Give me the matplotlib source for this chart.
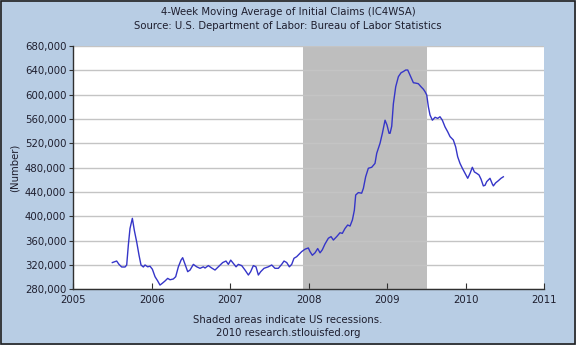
import matplotlib
matplotlib.use("Agg")
import matplotlib.pyplot as plt
import matplotlib.patches as mpatches
from matplotlib.ticker import FuncFormatter

# weekly 4-week moving average (decimal year, thousands)
dates = [
    2005.497, 2005.552, 2005.582, 2005.616, 2005.659, 2005.680, 2005.701, 2005.722,
    2005.752, 2005.777, 2005.807, 2005.837, 2005.862, 2005.892, 2005.913, 2005.947,
    2005.977, 2006.007, 2006.041, 2006.075, 2006.104, 2006.134, 2006.168, 2006.202,
    2006.232, 2006.274, 2006.304, 2006.338, 2006.372, 2006.393, 2006.423, 2006.457,
    2006.487, 2006.529, 2006.572, 2006.614, 2006.656,
    2006.678, 2006.720, 2006.763, 2006.805, 2006.848, 2006.903, 2006.945, 2006.975,
    2007.005, 2007.039, 2007.073, 2007.102, 2007.145, 2007.187, 2007.230, 2007.259,
    2007.293, 2007.327, 2007.357, 2007.387, 2007.429, 2007.484, 2007.527, 2007.569,
    2007.612, 2007.654, 2007.684, 2007.718, 2007.752, 2007.782, 2007.811, 2007.845,
    2007.879, 2007.909, 2007.952, 2007.994,
    2008.015, 2008.045, 2008.079, 2008.113, 2008.143, 2008.172, 2008.206, 2008.249,
    2008.283, 2008.313, 2008.355, 2008.397, 2008.427, 2008.461, 2008.495, 2008.525,
    2008.555, 2008.580, 2008.597, 2008.631, 2008.673, 2008.695, 2008.724, 2008.758,
    2008.801, 2008.843, 2008.865, 2008.907, 2008.937, 2008.971, 2008.996, 2009.022,
    2009.035, 2009.056, 2009.077,
    2009.107, 2009.141, 2009.175, 2009.204, 2009.234, 2009.260, 2009.289, 2009.332,
    2009.361, 2009.395, 2009.429, 2009.459, 2009.480, 2009.502, 2009.523, 2009.544,
    2009.574, 2009.608, 2009.642, 2009.671, 2009.701, 2009.735, 2009.769, 2009.799,
    2009.841, 2009.871, 2009.896, 2009.926, 2009.956, 2009.990, 2010.024, 2010.054,
    2010.083, 2010.109, 2010.138, 2010.168, 2010.194, 2010.223, 2010.245, 2010.266,
    2010.308, 2010.338, 2010.351, 2010.380, 2010.414, 2010.448, 2010.478,
]
claims = [
    324, 326.5, 321, 316.7, 316.7, 320, 353, 380,
    396.7, 377, 358, 336, 320, 316.7, 320, 317,
    318, 313, 300.7, 293.7, 287, 290, 293.7, 298,
    295.7, 297, 300.7, 317, 328, 332, 321, 309,
    311.7, 321, 317, 314.5, 317,
    315, 319, 315, 311.7, 317, 324, 326.5, 321,
    328, 322.5, 317, 321, 319, 311.7, 303.5, 309,
    319, 317, 303.5, 309, 314.5, 317, 320, 314.5,
    314.5, 321, 326.5, 324, 317, 321, 331, 333.6,
    338, 342, 346, 348,
    342, 336, 340, 347, 340, 345, 354.5, 364,
    366.6, 361, 366.6, 373, 372, 380, 385.7, 384,
    394, 410, 435, 439, 438, 446, 465, 479,
    480.6, 487, 503.6, 520, 536.5, 558, 550, 536.5,
    536.5, 548, 585,
    613, 629.6, 636, 638, 640.5, 640.5, 632, 619.6,
    619, 618, 613, 609, 605, 599.5, 580, 566.5,
    558, 562.8, 561, 563.7, 558, 547, 539, 531,
    525.5, 514, 498, 487, 479, 470.7, 462.5, 470.7,
    480.6, 473, 470.7, 468, 461, 450, 451, 457,
    462.5, 453, 450, 455, 458.5, 462.5, 465,
]
recession_start = 2007.92
recession_end = 2009.50
year_ticks = [2005, 2006, 2007, 2008, 2009, 2010, 2011]
y_ticks = [280000, 320000, 360000, 400000, 440000, 480000, 520000, 560000, 600000, 640000, 680000]

bg = "#b8cde4"
txt = "#1e1e2e"

plt.rcParams["font.family"] = "DejaVu Sans"
fig = plt.figure(figsize=(5.76, 3.45), dpi=100, facecolor=bg)
ax = fig.add_axes([0.1273, 0.1614, 0.8177, 0.7053])
ax.set_facecolor("white")

ax.axvspan(recession_start, recession_end, color="#bebebe", lw=0, zorder=1)
ax.plot(dates, [c * 1000 for c in claims], color="#3535c8", lw=1.0, zorder=3)

ax.set_xlim(2005, 2011)
ax.set_ylim(280000, 680000)
ax.set_xticks(year_ticks)
ax.set_yticks(y_ticks)
ax.yaxis.set_major_formatter(FuncFormatter(lambda v, p: "{:,.0f}".format(v)))
ax.grid(axis="y", color="#c4c4c4", lw=1.0, zorder=2)
ax.set_axisbelow(False)
for s in ["top", "right"]:
    ax.spines[s].set_visible(False)
for s in ["left", "bottom"]:
    ax.spines[s].set_color("#303030")
    ax.spines[s].set_linewidth(1.0)
    ax.spines[s].set_zorder(4)
ax.tick_params(axis="x", direction="in", length=4, color="#303030",
               labelsize=7.3, labelcolor=txt, pad=4)
ax.tick_params(axis="y", direction="out", length=3, color="#303030",
               labelsize=7.3, labelcolor=txt, pad=2)
ax.set_ylabel("(Number)", fontsize=7.3, color=txt, labelpad=4)

fig.text(0.5, 1 - 12 / 345, "4-Week Moving Average of Initial Claims (IC4WSA)",
         ha="center", va="center", fontsize=7.3, color=txt)
fig.text(0.5, 1 - 26 / 345, "Source: U.S. Department of Labor: Bureau of Labor Statistics",
         ha="center", va="center", fontsize=7.3, color=txt)
fig.text(0.5, 1 - 320 / 345, "Shaded areas indicate US recessions.",
         ha="center", va="center", fontsize=7.3, color=txt)
fig.text(0.5, 1 - 333 / 345, "2010 research.stlouisfed.org",
         ha="center", va="center", fontsize=7.3, color=txt)

fig.patches.append(mpatches.Rectangle((0.001, 0.0015), 0.997, 0.996, transform=fig.transFigure,
                                      fill=False, edgecolor="#202020", lw=1.2))

fig.savefig("out.png", dpi=100, facecolor=bg)
